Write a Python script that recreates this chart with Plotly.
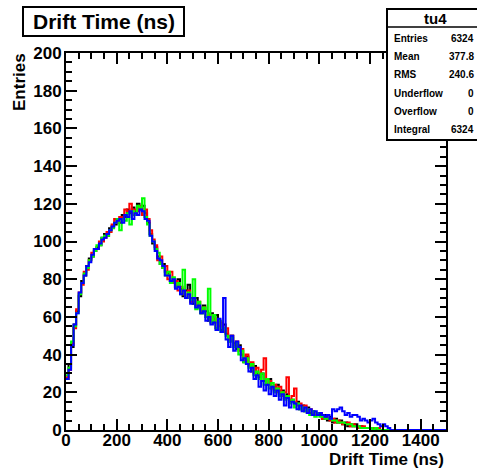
import plotly.graph_objects as go

# ---------------- data (10 ns bins, 0..1500 ns) ----------------
bin_width = 10
n_bins = 150

black_counts = [27,35,44,56,63,71,79,82,87,91,
 92,96,97,98,102,104,103,107,108,109,
 112,110,114,113,117,115,118,116,120,117,
 119,115,110,104,99,97,92,88,88,84,
 83,79,79,76,80,75,71,74,77,70,
 67,70,65,62,66,63,58,62,57,61,
 58,53,56,51,47,50,46,43,45,40,
 36,39,35,31,34,30,28,30,26,24,
 27,23,21,24,19,21,17,19,15,16,
 14,15,11,13,10,12,9,10,8,8,
 8,6,8,5,7,4,6,4,5,3,
 4,2,3,2,3,1,2,1,1,1,
 1,0,1,0,0]

red_counts = [28,32,46,54,64,73,77,84,85,90,
 94,95,96,100,100,102,105,105,109,112,
 110,113,112,117,116,120,114,117,116,119,
 114,117,112,106,101,98,90,92,86,87,
 80,84,78,79,74,76,72,70,74,68,
 70,66,68,63,65,60,61,57,59,54,
 55,57,52,54,48,50,45,47,42,43,
 37,40,34,36,30,33,29,32,38,24,
 26,22,24,20,23,18,20,28,16,18,
 22,13,14,11,13,10,11,9,8,9,
 9,6,7,6,5,6,4,5,4,3,
 3,4,2,3,2,1,2,2,1,1,
 1,1,0,1,0]

green_counts = [29,33,47,55,62,72,78,83,86,90,
 92,95,98,98,102,103,103,106,107,110,
 112,106,112,111,115,109,116,114,119,118,
 123,113,109,103,100,96,94,88,86,82,
 84,78,81,76,78,72,85,70,73,69,
 80,64,68,62,65,60,75,57,61,54,
 58,52,54,50,47,49,44,46,40,42,
 36,38,33,35,29,31,27,30,24,27,
 22,25,20,22,18,20,16,18,14,16,
 12,14,11,12,10,11,8,10,7,9,
 7,7,6,6,6,5,5,4,4,4,
 3,3,3,2,2,2,1,1,1,1,
 1,0,1,0,0]

blue_counts = [27,32,45,56,62,73,78,82,87,89,
 93,96,96,99,101,102,104,106,108,110,
 111,112,110,114,113,116,112,115,114,117,
 116,112,111,103,100,95,91,90,87,82,
 82,79,80,75,76,72,74,70,72,67,
 70,65,66,62,63,58,60,56,57,53,
 59,52,70,48,44,50,42,47,44,37,
 38,35,31,33,27,29,23,26,21,24,
 19,23,18,21,16,19,13,17,12,15,
 14,11,13,10,12,9,11,8,10,8,
 9,8,7,8,6,11,10,11,12,10,
 8,9,7,8,8,7,5,6,5,4,
 5,6,4,3,2,3,2,1,0,0]

x_ticks = [0, 200, 400, 600, 800, 1000, 1200, 1400]
y_ticks = [0, 20, 40, 60, 80, 100, 120, 140, 160, 180, 200]

stats_labels = ["Entries", "Mean", "RMS", "Underflow", "Overflow", "Integral"]
stats_values = ["6324", "377.8", "240.6", "0", "0", "6324"]

# ---------------- figure ----------------
FONT = "Liberation Sans"
edges = [i * bin_width for i in range(n_bins + 1)]

def steps(counts):
    c = list(counts) + [0] * (n_bins - len(counts))
    return edges, c + [c[-1]]

fig = go.Figure()
for counts, col in [(black_counts, "#000000"), (red_counts, "#ff0000"),
                    (green_counts, "#00ff00"), (blue_counts, "#0000ff")]:
    xs, ys = steps(counts)
    fig.add_trace(go.Scatter(x=xs, y=ys, mode="lines", line_shape="hv",
                             line=dict(color=col, width=2), hoverinfo="skip",
                             showlegend=False))

L, R, T, B = 66, 446, 53, 430
W, H = 477, 470
def PX(px): return (px - L) / (R - L)
def PY(py): return (B - py) / (B - T)

axis_common = dict(showgrid=False, zeroline=False, showline=True, linecolor="black",
                   linewidth=2, mirror="allticks", ticks="inside", tickcolor="black",
                   tickwidth=2, ticklen=11,
                   tickfont=dict(family=FONT, size=17, color="black", weight="bold"))

fig.update_xaxes(range=[0, 1500], tickvals=x_ticks, ticktext=[str(v) for v in x_ticks],
                 ticklabelstandoff=-6,
                 minor=dict(dtick=50, tick0=0, ticks="inside", ticklen=6, tickwidth=2,
                            tickcolor="black", showgrid=False),
                 **axis_common)
fig.update_yaxes(range=[0, 200], tickvals=y_ticks, ticktext=[str(v) for v in y_ticks],
                 ticklabelstandoff=-1,
                 minor=dict(dtick=5, tick0=0, ticks="inside", ticklen=6, tickwidth=2,
                            tickcolor="black", showgrid=False),
                 **axis_common)

shapes = []
annotations = []
# title box
shapes.append(dict(type="rect", xref="paper", yref="paper", x0=PX(23), x1=PX(184),
                   y0=PY(36), y1=PY(7), line=dict(color="black", width=2),
                   fillcolor="white", layer="above"))
annotations.append(dict(xref="paper", yref="paper", x=PX(103.5), y=PY(21.5),
                        text="Drift Time (ns)", showarrow=False, xanchor="center",
                        yanchor="middle",
                        font=dict(family=FONT, size=21, color="black", weight="bold")))
# stats box
shapes.append(dict(type="rect", xref="paper", yref="paper", x0=PX(387), x1=PX(484),
                   y0=PY(140), y1=PY(9), line=dict(color="black", width=2),
                   fillcolor="white", layer="above"))
shapes.append(dict(type="line", xref="paper", yref="paper", x0=PX(387), x1=PX(484),
                   y0=PY(27), y1=PY(27), line=dict(color="black", width=1.5),
                   layer="above"))
annotations.append(dict(xref="paper", yref="paper", x=PX(435), y=PY(18.5), text="tu4",
                        showarrow=False, xanchor="center", yanchor="middle",
                        font=dict(family=FONT, size=15, color="black", weight="bold")))
row_y = [38, 56.5, 75, 93.5, 112, 129.5]
for lab, val, ry in zip(stats_labels, stats_values, row_y):
    annotations.append(dict(xref="paper", yref="paper", x=PX(392), y=PY(ry), text=lab,
                            showarrow=False, xanchor="left", yanchor="middle",
                            font=dict(family=FONT, size=10, color="black", weight="bold")))
    annotations.append(dict(xref="paper", yref="paper", x=PX(476), y=PY(ry), text=val,
                            showarrow=False, xanchor="right", yanchor="middle",
                            font=dict(family=FONT, size=10, color="black", weight="bold")))
# axis titles
annotations.append(dict(xref="paper", yref="paper", x=1.0, y=PY(459), text="Drift Time (ns)",
                        showarrow=False, xanchor="right", yanchor="middle",
                        font=dict(family=FONT, size=17, color="black", weight="bold")))
annotations.append(dict(xref="paper", yref="paper", x=PX(20), y=PY(51), text="Entries",
                        showarrow=False, xanchor="center", yanchor="top", textangle=-90,
                        font=dict(family=FONT, size=17, color="black", weight="bold")))

fig.update_layout(width=W, height=H, margin=dict(l=L, r=W - R, t=T, b=H - B),
                  plot_bgcolor="white", paper_bgcolor="white",
                  shapes=shapes, annotations=annotations, showlegend=False)

fig.write_html("out.html", config={"displayModeBar": False},
               post_script="document.body.style.margin='0';document.body.style.padding='0';")
